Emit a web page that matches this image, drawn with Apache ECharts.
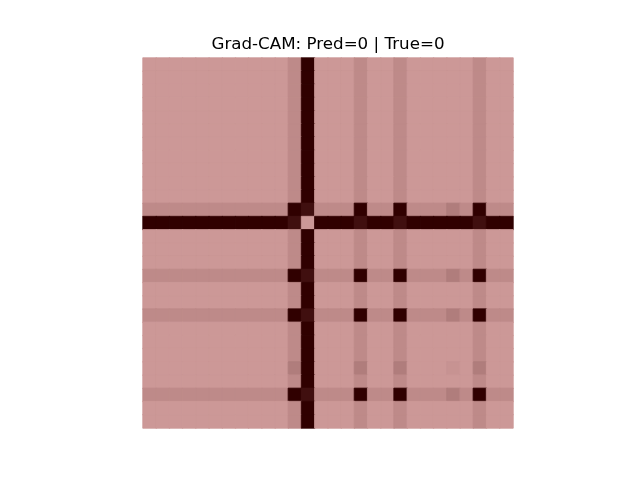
<!DOCTYPE html>
<html>
<head>
<meta charset="utf-8">
<script src="https://cdn.jsdelivr.net/npm/echarts@6/dist/echarts.min.js"></script>
<style>html,body{margin:0;padding:0;background:#fff;}#c{width:640px;height:480px;}</style>
</head>
<body>
<div id="c"></div>
<script>
var titleText = 'Grad-CAM: Pred=0 | True=0';
var cols = [];
var rows = [];
for (var i = 0; i < 28; i++) { cols.push(String(i)); rows.push(String(i)); }

// Grad-CAM intensity per cell (row by row)
var cam = [
[0,0,0,0,0,0,0,0,0,0,0,.09,1,0,0,0,.09,0,0,.09,0,0,0,0,0,.09,0,0],
[0,0,0,0,0,0,0,0,0,0,0,.09,1,0,0,0,.09,0,0,.09,0,0,0,0,0,.09,0,0],
[0,0,0,0,0,0,0,0,0,0,0,.09,1,0,0,0,.09,0,0,.09,0,0,0,0,0,.09,0,0],
[0,0,0,0,0,0,0,0,0,0,0,.09,1,0,0,0,.09,0,0,.09,0,0,0,0,0,.09,0,0],
[0,0,0,0,0,0,0,0,0,0,0,.09,1,0,0,0,.09,0,0,.09,0,0,0,0,0,.09,0,0],
[0,0,0,0,0,0,0,0,0,0,0,.09,1,0,0,0,.09,0,0,.09,0,0,0,0,0,.09,0,0],
[0,0,0,0,0,0,0,0,0,0,0,.09,1,0,0,0,.09,0,0,.09,0,0,0,0,0,.09,0,0],
[0,0,0,0,0,0,0,0,0,0,0,.09,1,0,0,0,.09,0,0,.09,0,0,0,0,0,.09,0,0],
[0,0,0,0,0,0,0,0,0,0,0,.09,1,0,0,0,.09,0,0,.09,0,0,0,0,0,.09,0,0],
[0,0,0,0,0,0,0,0,0,0,0,.09,1,0,0,0,.09,0,0,.09,0,0,0,0,0,.09,0,0],
[0,0,0,0,0,0,0,0,0,0,0,.09,1,0,0,0,.09,0,0,.09,0,0,0,0,0,.09,0,0],
[.09,.09,.09,.09,.09,.09,.09,.09,.09,.09,.09,1,.9,.09,.09,.09,1,.09,.09,1,.09,.09,.09,.18,.09,1,.09,.09],
[1,1,1,1,1,1,1,1,1,1,1,.9,0,1,1,1,.9,1,1,.9,1,1,1,1,1,.9,1,1],
[0,0,0,0,0,0,0,0,0,0,0,.09,1,0,0,0,.09,0,0,.09,0,0,0,0,0,.09,0,0],
[0,0,0,0,0,0,0,0,0,0,0,.09,1,0,0,0,.09,0,0,.09,0,0,0,0,0,.09,0,0],
[0,0,0,0,0,0,0,0,0,0,0,.09,1,0,0,0,.09,0,0,.09,0,0,0,0,0,.09,0,0],
[.09,.09,.09,.09,.09,.09,.09,.09,.09,.09,.09,1,.9,.09,.09,.09,1,.09,.09,1,.09,.09,.09,.18,.09,1,.09,.09],
[0,0,0,0,0,0,0,0,0,0,0,.09,1,0,0,0,.09,0,0,.09,0,0,0,0,0,.09,0,0],
[0,0,0,0,0,0,0,0,0,0,0,.09,1,0,0,0,.09,0,0,.09,0,0,0,0,0,.09,0,0],
[.09,.09,.09,.09,.09,.09,.09,.09,.09,.09,.09,1,.9,.09,.09,.09,1,.09,.09,1,.09,.09,.09,.18,.09,1,.09,.09],
[0,0,0,0,0,0,0,0,0,0,0,.09,1,0,0,0,.09,0,0,.09,0,0,0,0,0,.09,0,0],
[0,0,0,0,0,0,0,0,0,0,0,.09,1,0,0,0,.09,0,0,.09,0,0,0,0,0,.09,0,0],
[0,0,0,0,0,0,0,0,0,0,0,.09,1,0,0,0,.09,0,0,.09,0,0,0,0,0,.09,0,0],
[0,0,0,0,0,0,0,0,0,0,0,.18,1,0,0,0,.18,0,0,.18,0,0,0,.03,0,.18,0,0],
[0,0,0,0,0,0,0,0,0,0,0,.09,1,0,0,0,.09,0,0,.09,0,0,0,0,0,.09,0,0],
[.09,.09,.09,.09,.09,.09,.09,.09,.09,.09,.09,1,.9,.09,.09,.09,1,.09,.09,1,.09,.09,.09,.18,.09,1,.09,.09],
[0,0,0,0,0,0,0,0,0,0,0,.09,1,0,0,0,.09,0,0,.09,0,0,0,0,0,.09,0,0],
[0,0,0,0,0,0,0,0,0,0,0,.09,1,0,0,0,.09,0,0,.09,0,0,0,0,0,.09,0,0]
];

var rampColors = ['#cc9897', '#300000'];

var data = [];
for (var r = 0; r < cam.length; r++) {
  for (var c = 0; c < cam[r].length; c++) {
    var col = echarts.color.lerp(cam[r][c], rampColors);
    data.push({value: [c, r, cam[r][c]], itemStyle: {color: col, borderColor: col, borderWidth: 0.8}});
  }
}

var chart = echarts.init(document.getElementById('c'), null, {renderer: 'canvas'});
chart.setOption({
  animation: false,
  backgroundColor: '#ffffff',
  title: {
    text: titleText,
    left: 323,
    textAlign: 'center',
    top: 31,
    textStyle: {fontFamily: 'DejaVu Sans', fontSize: 16.7, fontWeight: 'normal', color: '#000'}
  },
  grid: {left: 143, top: 58, width: 370, height: 370},
  xAxis: {type: 'category', data: cols, show: false},
  yAxis: {type: 'category', data: rows, inverse: true, show: false},
  series: [{
    type: 'heatmap',
    data: data,
    emphasis: {disabled: true}
  }]
});
</script>
</body>
</html>
